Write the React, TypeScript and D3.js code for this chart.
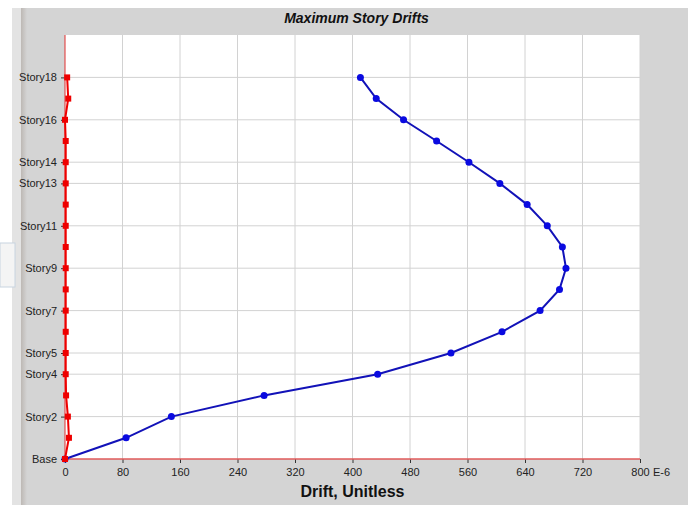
import { useEffect, useRef } from "react";
import * as d3 from "d3";

// story levels 0 = Base ... 18
const stories = d3.range(0, 19);
const labelledStories = [0, 2, 4, 5, 7, 9, 11, 13, 14, 16, 18];
// drift values, E-6
const blueDrift = [
  0, 85, 148, 277, 435, 537, 608, 661, 688, 697, 692, 671, 643, 605, 562, 517, 471, 433, 411,
];
const redDrift = [0, 5.5, 4, 1.5, 1, 1, 1, 1, 1, 1, 1, 1, 1, 1, 1, 1, 0, 4.5, 3];
const xTicks = [0, 80, 160, 240, 320, 400, 480, 560, 640, 720, 800];

const W = 688;
const H = 505;
const margin = { top: 35, right: 48, bottom: 46, left: 65 };

const storyName = (s: number) => (s === 0 ? "Base" : `Story${s}`);

const App = () => {
  const svgRef = useRef<SVGSVGElement>(null);

  useEffect(() => {
    if (!svgRef.current) return;
    const svg = d3.select(svgRef.current);
    svg.selectAll("*").remove();

    const x = d3.scaleLinear().domain([0, 800]).range([margin.left, W - margin.right]);
    const y = d3.scaleLinear().domain([0, 20]).range([H - margin.bottom, margin.top]);

    // background pieces
    svg.append("rect").attr("width", W).attr("height", H).attr("fill", "#ffffff");
    svg.append("rect").attr("x", 12).attr("y", 8).attr("width", W - 12).attr("height", H - 8).attr("fill", "#e3e3e3");
    const grad = svg.append("defs").append("linearGradient").attr("id", "shade");
    grad.append("stop").attr("offset", "0").attr("stop-color", "#bdb8b4");
    grad.append("stop").attr("offset", "1").attr("stop-color", "#d4d4d4");
    svg.append("rect").attr("x", 21).attr("y", 8).attr("width", 6).attr("height", H - 8).attr("fill", "url(#shade)");
    svg.append("rect").attr("x", 27).attr("y", 8).attr("width", W - 27).attr("height", H - 8).attr("fill", "#d4d4d4");
    svg.append("rect").attr("x", 0).attr("y", 243).attr("width", 15).attr("height", 44)
      .attr("fill", "#f4f4f4").attr("stroke", "#c8d4e0");

    // plot area
    svg.append("rect")
      .attr("x", margin.left).attr("y", margin.top)
      .attr("width", x(800) - margin.left).attr("height", y(0) - margin.top)
      .attr("fill", "#ffffff");

    // gridlines
    svg.append("g").selectAll("line").data(xTicks.slice(1)).enter().append("line")
      .attr("x1", (d) => x(d)).attr("x2", (d) => x(d))
      .attr("y1", margin.top).attr("y2", y(0))
      .attr("stroke", "#d2d2d2");
    svg.append("g").selectAll("line").data(labelledStories.slice(1)).enter().append("line")
      .attr("x1", margin.left).attr("x2", x(800))
      .attr("y1", (d) => y(d)).attr("y2", (d) => y(d))
      .attr("stroke", "#d2d2d2");

    // x axis
    const xAxis = svg.append("g")
      .attr("transform", `translate(0, ${y(0)})`)
      .call(d3.axisBottom(x).tickValues(xTicks).tickSize(4).tickPadding(5).tickFormat(d3.format("d")));
    xAxis.select(".domain").remove();
    xAxis.selectAll("line").attr("stroke", "#333");
    xAxis.selectAll("text").attr("font-size", 11).attr("font-family", "Arial, Liberation Sans, sans-serif").attr("fill", "#222");

    // y axis
    const yAxis = svg.append("g")
      .attr("transform", `translate(${margin.left}, 0)`)
      .call(d3.axisLeft(y).tickValues(labelledStories).tickSize(4).tickPadding(4).tickFormat((d) => storyName(+d)));
    yAxis.select(".domain").remove();
    yAxis.selectAll("line").attr("stroke", "#333");
    yAxis.selectAll("text").attr("font-size", 11).attr("font-family", "Arial, Liberation Sans, sans-serif").attr("fill", "#222");

    // axis lines (red)
    svg.append("line").attr("x1", margin.left).attr("x2", x(800)).attr("y1", y(0)).attr("y2", y(0))
      .attr("stroke", "#e05a5a").attr("stroke-width", 1.5);
    svg.append("line").attr("x1", margin.left).attr("x2", margin.left).attr("y1", margin.top).attr("y2", y(0))
      .attr("stroke", "#e03030").attr("stroke-width", 1);

    // "E-6" suffix
    svg.append("text").attr("x", x(800) + 13).attr("y", y(0) + 17)
      .attr("font-size", 11).attr("font-family", "Arial, Liberation Sans, sans-serif").attr("fill", "#222")
      .text("E-6");

    // blue series
    const blueLine = d3.line<number>().x((d) => x(d)).y((_, i) => y(stories[i]));
    svg.append("path").datum(blueDrift)
      .attr("fill", "none").attr("stroke", "#1212b8").attr("stroke-width", 2).attr("d", blueLine);
    svg.append("g").selectAll("circle").data(blueDrift).enter().append("circle")
      .attr("cx", (d) => x(d)).attr("cy", (_, i) => y(stories[i]))
      .attr("r", 3.5).attr("fill", "#0a0ae0");

    // red series
    svg.append("path").datum(redDrift)
      .attr("fill", "none").attr("stroke", "#ee0000").attr("stroke-width", 2).attr("d", blueLine);
    svg.append("g").selectAll("rect").data(redDrift).enter().append("rect")
      .attr("x", (d) => x(d) - 3).attr("y", (_, i) => y(stories[i]) - 3)
      .attr("width", 6).attr("height", 6).attr("fill", "#ee0000");

    // titles
    svg.append("text").attr("x", (margin.left + x(800)) / 2 + 4).attr("y", 23)
      .attr("text-anchor", "middle").attr("font-size", 14).attr("font-weight", "bold").attr("font-style", "italic")
      .attr("font-family", "Arial, Liberation Sans, sans-serif").attr("fill", "#111")
      .text("Maximum Story Drifts");
    svg.append("text").attr("x", (margin.left + x(800)) / 2).attr("y", 497)
      .attr("text-anchor", "middle").attr("font-size", 16).attr("font-weight", "bold")
      .attr("font-family", "Arial, Liberation Sans, sans-serif").attr("fill", "#111")
      .text("Drift, Unitless");
  }, []);

  return (
    <svg ref={svgRef} width={W} height={H} style={{ position: "absolute", left: 0, top: 0 }}></svg>
  );
};

export default App;
